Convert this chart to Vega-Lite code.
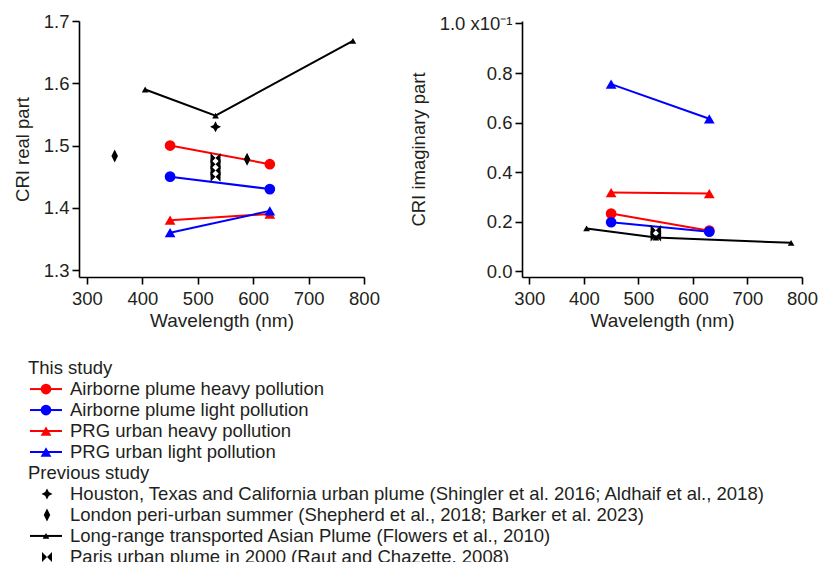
{
  "$schema": "https://vega.github.io/schema/vega-lite/v6.json",
  "padding": {"left": 13, "top": 12, "right": 0, "bottom": 0},
  "background": "white",
  "config": {
    "view": {"stroke": null},
    "font": "Liberation Sans",
    "axis": {
      "grid": false,
      "domainColor": "#000000",
      "domainWidth": 1.6,
      "tickColor": "#000000",
      "tickWidth": 1.6,
      "tickSize": 7,
      "labelPadding": 3,
      "labelFont": "Liberation Sans",
      "labelFontSize": 18.5,
      "labelColor": "#231f20",
      "labelFlush": false,
      "labelOverlap": false,
      "titleFont": "Liberation Sans",
      "titleFontSize": 18.5,
      "titleFontWeight": "normal",
      "titleColor": "#231f20",
      "titlePadding": 11
    },
    "axisX": {"labelPadding": 5, "titlePadding": 4, "titleFontSize": 19},
    "text": {"font": "Liberation Sans", "color": "#231f20"}
  },
  "datasets": {
    "real": [
      {"study": "This study", "series": "Airborne plume heavy pollution", "wavelength": 450, "value": 1.50},
      {"study": "This study", "series": "Airborne plume heavy pollution", "wavelength": 630, "value": 1.47},
      {"study": "This study", "series": "Airborne plume light pollution", "wavelength": 450, "value": 1.45},
      {"study": "This study", "series": "Airborne plume light pollution", "wavelength": 630, "value": 1.43},
      {"study": "This study", "series": "PRG urban heavy pollution", "wavelength": 450, "value": 1.38},
      {"study": "This study", "series": "PRG urban heavy pollution", "wavelength": 630, "value": 1.39},
      {"study": "This study", "series": "PRG urban light pollution", "wavelength": 450, "value": 1.36},
      {"study": "This study", "series": "PRG urban light pollution", "wavelength": 630, "value": 1.395},
      {"study": "Previous study", "series": "Houston, Texas and California urban plume (Shingler et al. 2016; Aldhaif et al., 2018)", "wavelength": 532, "value": 1.53},
      {"study": "Previous study", "series": "London peri-urban summer (Shepherd et al., 2018; Barker et al. 2023)", "wavelength": 350, "value": 1.483},
      {"study": "Previous study", "series": "London peri-urban summer (Shepherd et al., 2018; Barker et al. 2023)", "wavelength": 589, "value": 1.478},
      {"study": "Previous study", "series": "Long-range transported Asian Plume (Flowers et al., 2010)", "wavelength": 405, "value": 1.59},
      {"study": "Previous study", "series": "Long-range transported Asian Plume (Flowers et al., 2010)", "wavelength": 532, "value": 1.548},
      {"study": "Previous study", "series": "Long-range transported Asian Plume (Flowers et al., 2010)", "wavelength": 780, "value": 1.668},
      {"study": "Previous study", "series": "Paris urban plume in 2000 (Raut and Chazette, 2008)", "wavelength": 532, "value": 1.48},
      {"study": "Previous study", "series": "Paris urban plume in 2000 (Raut and Chazette, 2008)", "wavelength": 532, "value": 1.47},
      {"study": "Previous study", "series": "Paris urban plume in 2000 (Raut and Chazette, 2008)", "wavelength": 532, "value": 1.46},
      {"study": "Previous study", "series": "Paris urban plume in 2000 (Raut and Chazette, 2008)", "wavelength": 532, "value": 1.45}
    ],
    "imag": [
      {"study": "This study", "series": "Airborne plume heavy pollution", "wavelength": 450, "value": 0.232},
      {"study": "This study", "series": "Airborne plume heavy pollution", "wavelength": 630, "value": 0.163},
      {"study": "This study", "series": "Airborne plume light pollution", "wavelength": 450, "value": 0.197},
      {"study": "This study", "series": "Airborne plume light pollution", "wavelength": 630, "value": 0.159},
      {"study": "This study", "series": "PRG urban heavy pollution", "wavelength": 450, "value": 0.317},
      {"study": "This study", "series": "PRG urban heavy pollution", "wavelength": 630, "value": 0.313},
      {"study": "This study", "series": "PRG urban light pollution", "wavelength": 450, "value": 0.755},
      {"study": "This study", "series": "PRG urban light pollution", "wavelength": 630, "value": 0.615},
      {"study": "Previous study", "series": "Long-range transported Asian Plume (Flowers et al., 2010)", "wavelength": 405, "value": 0.172},
      {"study": "Previous study", "series": "Long-range transported Asian Plume (Flowers et al., 2010)", "wavelength": 532, "value": 0.135},
      {"study": "Previous study", "series": "Long-range transported Asian Plume (Flowers et al., 2010)", "wavelength": 780, "value": 0.114},
      {"study": "Previous study", "series": "Paris urban plume in 2000 (Raut and Chazette, 2008)", "wavelength": 532, "value": 0.165},
      {"study": "Previous study", "series": "Paris urban plume in 2000 (Raut and Chazette, 2008)", "wavelength": 532, "value": 0.14}
    ],
    "legend": [
      {"label": "This study", "group": "This study", "kind": "header"},
      {"label": "Airborne plume heavy pollution", "group": "This study", "kind": "item"},
      {"label": "Airborne plume light pollution", "group": "This study", "kind": "item"},
      {"label": "PRG urban heavy pollution", "group": "This study", "kind": "item"},
      {"label": "PRG urban light pollution", "group": "This study", "kind": "item"},
      {"label": "Previous study", "group": "Previous study", "kind": "header"},
      {"label": "Houston, Texas and California urban plume (Shingler et al. 2016; Aldhaif et al., 2018)", "group": "Previous study", "kind": "item"},
      {"label": "London peri-urban summer (Shepherd et al., 2018; Barker et al. 2023)", "group": "Previous study", "kind": "item"},
      {"label": "Long-range transported Asian Plume (Flowers et al., 2010)", "group": "Previous study", "kind": "item"},
      {"label": "Paris urban plume in 2000 (Raut and Chazette, 2008)", "group": "Previous study", "kind": "item"}
    ]
  },
  "spacing": 28,
  "vconcat": [
    {
      "bounds": "flush",
      "spacing": 158,
      "hconcat": [
        {
          "width": 285,
          "height": 256,
          "data": {"name": "real"},
          "encoding": {
            "x": {"field": "wavelength", "type": "quantitative", "scale": {"domain": [285.6, 800], "nice": false, "zero": false}, "axis": {"values": [300, 400, 500, 600, 700, 800], "title": "Wavelength (nm)"}},
            "y": {"field": "value", "type": "quantitative", "scale": {"domain": [1.2888, 1.7], "nice": false, "zero": false}, "axis": {"values": [1.3, 1.4, 1.5, 1.6, 1.7], "format": ".1f", "title": "CRI real part"}}
          },
          "layer": [
            {
              "transform": [{"filter": "datum.study === 'This study'"}],
              "mark": {"type": "line", "strokeWidth": 2},
              "encoding": {
                "color": {"field": "series", "type": "nominal", "scale": {"domain": ["Airborne plume heavy pollution", "Airborne plume light pollution", "PRG urban heavy pollution", "PRG urban light pollution"], "range": ["#ff0000", "#0000ff", "#ff0000", "#0000ff"]}, "legend": null}
              }
            },
            {
              "transform": [{"filter": "datum.series === 'Long-range transported Asian Plume (Flowers et al., 2010)'"}],
              "mark": {"type": "line", "strokeWidth": 2, "color": "#000000"},
              "encoding": {}
            },
            {
              "transform": [{"filter": "datum.study === 'This study'"}],
              "mark": {"type": "point", "filled": true, "opacity": 1, "size": 115},
              "encoding": {
                "color": {"field": "series", "type": "nominal", "scale": {"domain": ["Airborne plume heavy pollution", "Airborne plume light pollution", "PRG urban heavy pollution", "PRG urban light pollution"], "range": ["#ff0000", "#0000ff", "#ff0000", "#0000ff"]}, "legend": null},
                "shape": {"field": "series", "type": "nominal", "scale": {"domain": ["Airborne plume heavy pollution", "Airborne plume light pollution", "PRG urban heavy pollution", "PRG urban light pollution"], "range": ["circle", "circle", "triangle-up", "triangle-up"]}, "legend": null}
              }
            },
            {
              "transform": [{"filter": "datum.series === 'Long-range transported Asian Plume (Flowers et al., 2010)'"}],
              "mark": {"type": "point", "filled": true, "opacity": 1, "size": 45, "shape": "triangle-up", "color": "#000000"}
            },
            {
              "transform": [{"filter": "datum.series === 'Houston, Texas and California urban plume (Shingler et al. 2016; Aldhaif et al., 2018)'"}],
              "mark": {"type": "point", "filled": true, "opacity": 1, "size": 120, "color": "#000000", "shape": "M0,-1L0.34,-0.34L1,0L0.34,0.34L0,1L-0.34,0.34L-1,0L-0.34,-0.34Z"}
            },
            {
              "transform": [{"filter": "datum.series === 'London peri-urban summer (Shepherd et al., 2018; Barker et al. 2023)'"}],
              "mark": {"type": "point", "filled": true, "opacity": 1, "size": 170, "color": "#000000", "shape": "M0,-1L0.5,0L0,1L-0.5,0Z"}
            },
            {
              "transform": [{"filter": "datum.series === 'Paris urban plume in 2000 (Raut and Chazette, 2008)'"}],
              "mark": {"type": "point", "filled": true, "opacity": 1, "size": 100, "color": "#000000", "shape": "M-1,-1L0,0L-1,1Z M1,-1L0,0L1,1Z"}
            },
            {
              "data": {"values": [{"panel": "(a)"}]},
              "mark": {"type": "text", "fontSize": 18.5, "align": "left", "baseline": "middle"},
              "encoding": {"x": {"datum": 313, "type": "quantitative"}, "y": {"datum": 1.668, "type": "quantitative"}, "text": {"field": "panel"}}
            }
          ]
        },
        {
          "width": 280,
          "height": 256,
          "data": {"name": "imag"},
          "encoding": {
            "x": {"field": "wavelength", "type": "quantitative", "scale": {"domain": [286.6, 800], "nice": false, "zero": false}, "axis": {"values": [300, 400, 500, 600, 700, 800], "title": "Wavelength (nm)"}},
            "y": {"field": "value", "type": "quantitative", "scale": {"domain": [-0.0242, 1.0101], "nice": false, "zero": false}, "axis": {"values": [0, 0.2, 0.4, 0.6, 0.8, 1.0], "labelExpr": "datum.value > 0.99 ? '1.0 x10⁻¹' : format(datum.value, '.1f')", "title": "CRI imaginary part"}}
          },
          "layer": [
            {
              "transform": [{"filter": "datum.study === 'This study'"}],
              "mark": {"type": "line", "strokeWidth": 2},
              "encoding": {
                "color": {"field": "series", "type": "nominal", "scale": {"domain": ["Airborne plume heavy pollution", "Airborne plume light pollution", "PRG urban heavy pollution", "PRG urban light pollution"], "range": ["#ff0000", "#0000ff", "#ff0000", "#0000ff"]}, "legend": null}
              }
            },
            {
              "transform": [{"filter": "datum.series === 'Long-range transported Asian Plume (Flowers et al., 2010)'"}],
              "mark": {"type": "line", "strokeWidth": 2, "color": "#000000"},
              "encoding": {}
            },
            {
              "transform": [{"filter": "datum.study === 'This study'"}],
              "mark": {"type": "point", "filled": true, "opacity": 1, "size": 115},
              "encoding": {
                "color": {"field": "series", "type": "nominal", "scale": {"domain": ["Airborne plume heavy pollution", "Airborne plume light pollution", "PRG urban heavy pollution", "PRG urban light pollution"], "range": ["#ff0000", "#0000ff", "#ff0000", "#0000ff"]}, "legend": null},
                "shape": {"field": "series", "type": "nominal", "scale": {"domain": ["Airborne plume heavy pollution", "Airborne plume light pollution", "PRG urban heavy pollution", "PRG urban light pollution"], "range": ["circle", "circle", "triangle-up", "triangle-up"]}, "legend": null}
              }
            },
            {
              "transform": [{"filter": "datum.series === 'Long-range transported Asian Plume (Flowers et al., 2010)'"}],
              "mark": {"type": "point", "filled": true, "opacity": 1, "size": 45, "shape": "triangle-up", "color": "#000000"}
            },
            {
              "transform": [{"filter": "datum.series === 'Paris urban plume in 2000 (Raut and Chazette, 2008)'"}],
              "mark": {"type": "point", "filled": true, "opacity": 1, "size": 110, "color": "#000000", "shape": "M-1,-1L0,0L-1,1Z M1,-1L0,0L1,1Z"}
            },
            {
              "data": {"values": [{"panel": "(b)"}]},
              "mark": {"type": "text", "fontSize": 18.5, "align": "left", "baseline": "middle"},
              "encoding": {"x": {"datum": 314, "type": "quantitative"}, "y": {"datum": 0.937, "type": "quantitative"}, "text": {"field": "panel"}}
            }
          ]
        }
      ]
    },
    {
      "width": 100,
      "height": 203,
      "view": {"fill": "white", "stroke": null},
      "data": {"name": "legend"},
      "encoding": {
        "y": {"field": "label", "type": "nominal", "axis": null, "scale": {"type": "point", "padding": 0.337, "domain": [
          "This study",
          "Airborne plume heavy pollution",
          "Airborne plume light pollution",
          "PRG urban heavy pollution",
          "PRG urban light pollution",
          "Previous study",
          "Houston, Texas and California urban plume (Shingler et al. 2016; Aldhaif et al., 2018)",
          "London peri-urban summer (Shepherd et al., 2018; Barker et al. 2023)",
          "Long-range transported Asian Plume (Flowers et al., 2010)",
          "Paris urban plume in 2000 (Raut and Chazette, 2008)"
        ]}}
      },
      "layer": [
        {
          "transform": [{"filter": "datum.kind === 'header'"}],
          "mark": {"type": "text", "fontSize": 18.5, "align": "left", "baseline": "middle"},
          "encoding": {"x": {"datum": -0.51, "type": "quantitative", "scale": {"domain": [0, 1]}, "axis": null}, "text": {"field": "label"}}
        },
        {
          "transform": [{"filter": "datum.kind === 'item'"}],
          "mark": {"type": "text", "fontSize": 18.5, "align": "left", "baseline": "middle"},
          "encoding": {"x": {"datum": -0.09, "type": "quantitative", "scale": {"domain": [0, 1]}, "axis": null}, "text": {"field": "label"}}
        },
        {
          "transform": [{"filter": "datum.kind === 'item' && datum.group === 'This study'"}],
          "mark": {"type": "rule", "strokeWidth": 2},
          "encoding": {
            "x": {"datum": -0.49, "type": "quantitative", "scale": {"domain": [0, 1]}, "axis": null},
            "x2": {"datum": -0.17},
            "color": {"field": "label", "type": "nominal", "scale": {"domain": ["Airborne plume heavy pollution", "Airborne plume light pollution", "PRG urban heavy pollution", "PRG urban light pollution"], "range": ["#ff0000", "#0000ff", "#ff0000", "#0000ff"]}, "legend": null}
          }
        },
        {
          "transform": [{"filter": "datum.kind === 'item' && datum.group === 'This study'"}],
          "mark": {"type": "point", "filled": true, "opacity": 1, "size": 115},
          "encoding": {
            "x": {"datum": -0.33, "type": "quantitative", "scale": {"domain": [0, 1]}, "axis": null},
            "color": {"field": "label", "type": "nominal", "scale": {"domain": ["Airborne plume heavy pollution", "Airborne plume light pollution", "PRG urban heavy pollution", "PRG urban light pollution"], "range": ["#ff0000", "#0000ff", "#ff0000", "#0000ff"]}, "legend": null},
            "shape": {"field": "label", "type": "nominal", "scale": {"domain": ["Airborne plume heavy pollution", "Airborne plume light pollution", "PRG urban heavy pollution", "PRG urban light pollution"], "range": ["circle", "circle", "triangle-up", "triangle-up"]}, "legend": null}
          }
        },
        {
          "transform": [{"filter": "datum.label === 'Long-range transported Asian Plume (Flowers et al., 2010)'"}],
          "mark": {"type": "rule", "strokeWidth": 2, "color": "#000000"},
          "encoding": {"x": {"datum": -0.49, "type": "quantitative", "scale": {"domain": [0, 1]}, "axis": null}, "x2": {"datum": -0.17}}
        },
        {
          "transform": [{"filter": "datum.label === 'Long-range transported Asian Plume (Flowers et al., 2010)'"}],
          "mark": {"type": "point", "filled": true, "opacity": 1, "size": 45, "shape": "triangle-up", "color": "#000000"},
          "encoding": {"x": {"datum": -0.33, "type": "quantitative", "scale": {"domain": [0, 1]}, "axis": null}}
        },
        {
          "transform": [{"filter": "datum.label === 'Houston, Texas and California urban plume (Shingler et al. 2016; Aldhaif et al., 2018)'"}],
          "mark": {"type": "point", "filled": true, "opacity": 1, "size": 120, "color": "#000000", "shape": "M0,-1L0.34,-0.34L1,0L0.34,0.34L0,1L-0.34,0.34L-1,0L-0.34,-0.34Z"},
          "encoding": {"x": {"datum": -0.32, "type": "quantitative", "scale": {"domain": [0, 1]}, "axis": null}}
        },
        {
          "transform": [{"filter": "datum.label === 'London peri-urban summer (Shepherd et al., 2018; Barker et al. 2023)'"}],
          "mark": {"type": "point", "filled": true, "opacity": 1, "size": 170, "color": "#000000", "shape": "M0,-1L0.5,0L0,1L-0.5,0Z"},
          "encoding": {"x": {"datum": -0.32, "type": "quantitative", "scale": {"domain": [0, 1]}, "axis": null}}
        },
        {
          "transform": [{"filter": "datum.label === 'Paris urban plume in 2000 (Raut and Chazette, 2008)'"}],
          "mark": {"type": "point", "filled": true, "opacity": 1, "size": 100, "color": "#000000", "shape": "M-1,-1L0,0L-1,1Z M1,-1L0,0L1,1Z"},
          "encoding": {"x": {"datum": -0.32, "type": "quantitative", "scale": {"domain": [0, 1]}, "axis": null}}
        }
      ]
    }
  ]
}
